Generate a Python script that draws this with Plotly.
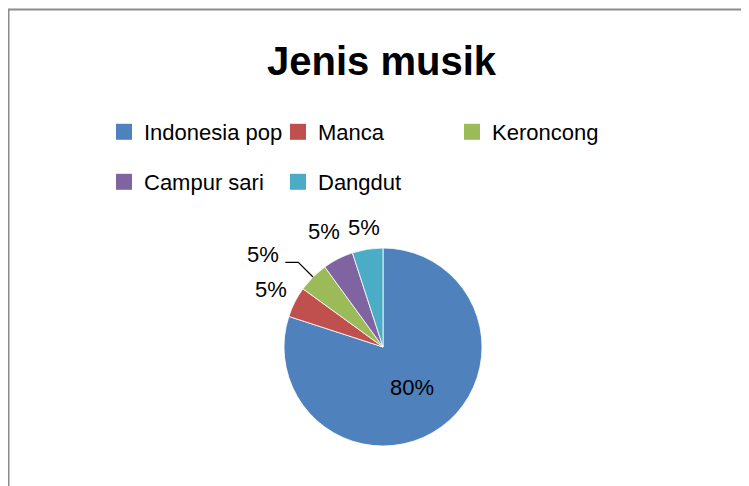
import math
import plotly.graph_objects as go

# Jenis musik - share of respondents by music genre (Excel-style pie)
labels = ["Indonesia pop", "Manca", "Keroncong", "Campur sari", "Dangdut"]
values = [80, 5, 5, 5, 5]
colors = ["#4F81BD", "#C0504D", "#9BBB59", "#8064A2", "#4BACC6"]
# how far out (in radii) each outside label sits, None = plotly's own inside label
label_dist = [None, 1.27, 1.21, 1.31, 1.22]
leader = [False, False, True, False, False]

W, H = 749, 486
OFF = 8  # page body margin
FONT = "Liberation Sans, Arial, sans-serif"


def px_x(x):
    return (x - OFF) / W


def px_y(y):
    return 1 - (y - OFF) / H


CX, CY, R = 383, 347, 99  # pie centre / radius on screen

fig = go.Figure()
fig.add_trace(go.Pie(
    labels=labels, values=values, sort=False,
    direction="clockwise", rotation=0,
    marker=dict(colors=colors, line=dict(color="white", width=0.8)),
    texttemplate="%{percent:.0%}",
    textposition=["inside" if d is None else "none" for d in label_dist],
    textfont=dict(size=22, family=FONT, color="black"),
    insidetextfont=dict(color="black"),
    domain=dict(x=[px_x(CX - 150), px_x(CX + 150)], y=[px_y(CY + R), px_y(CY - R)]),
    showlegend=False, hoverinfo="label+percent",
))

# outside percentage labels, placed along each slice's mid angle
total = sum(values)
annotations = []
shapes = []
start = 0.0
for i, v in enumerate(values):
    mid = (start + v / 2) / total * 2 * math.pi
    start += v
    d = label_dist[i]
    if d is None:
        continue
    sx, sy = math.sin(mid), -math.cos(mid)
    lx, ly = CX + d * R * sx, CY + d * R * sy
    if leader[i]:  # label pushed aside, joined to its slice by a line
        ex, ey = CX + R * sx, CY + R * sy
        bx, by = lx, ly
        lx, ly = bx - 35, by - 8
        hx = lx + 22
        shapes.append(dict(
            type="path", xref="paper", yref="paper",
            path=f"M{px_x(ex)},{px_y(ey)} L{px_x(bx)},{px_y(by)} L{px_x(hx)},{px_y(by)}",
            line=dict(color="black", width=1.2),
        ))
    annotations.append(dict(
        text=f"{v / total:.0%}", x=px_x(lx), y=px_y(ly), xref="paper", yref="paper",
        showarrow=False, xanchor="center", yanchor="middle",
        font=dict(size=22, family=FONT, color="black"),
    ))

# legend entries laid out in two rows like the Excel legend
for i, (lab, col) in enumerate(zip(labels, colors)):
    fig.add_trace(go.Scatter(
        x=[None], y=[None], mode="markers", name=lab,
        marker=dict(symbol="square", size=18, color=col),
        legend="legend" if i < 3 else "legend2", hoverinfo="skip",
    ))

leg = dict(orientation="h", xanchor="left", yanchor="middle",
           entrywidth=129, entrywidthmode="pixels",
           font=dict(size=22, family=FONT, color="black"),
           bgcolor="rgba(0,0,0,0)", itemclick=False, itemdoubleclick=False)

shapes += [
    dict(type="line", xref="paper", yref="paper",
         x0=px_x(8), x1=1.01, y0=px_y(9.5), y1=px_y(9.5),
         line=dict(color="#8c8c8c", width=2)),
    dict(type="line", xref="paper", yref="paper",
         x0=px_x(8.5), x1=px_x(8.5), y0=px_y(9), y1=-0.01,
         line=dict(color="#8c8c8c", width=2)),
]

fig.update_layout(
    width=W, height=H,
    margin=dict(l=0, r=0, t=0, b=0),
    paper_bgcolor="white", plot_bgcolor="white",
    title=dict(text="<b>Jenis musik</b>", x=px_x(381.5), xanchor="center",
               y=px_y(61), yanchor="middle",
               font=dict(size=40, family=FONT, color="black")),
    legend=dict(leg, x=px_x(104), y=px_y(132)),
    legend2=dict(leg, x=px_x(104), y=px_y(182)),
    xaxis=dict(visible=False), yaxis=dict(visible=False),
    annotations=annotations,
    shapes=shapes,
)

fig.write_html("out.html")
